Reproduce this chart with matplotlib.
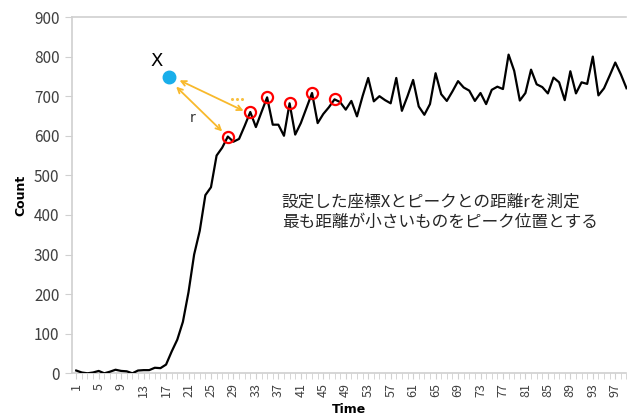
import matplotlib
matplotlib.use("Agg")
import matplotlib.pyplot as plt
import numpy as np

plt.rcParams['font.family'] = ['Noto Sans CJK JP', 'DejaVu Sans']

time = list(range(1, 100))
count = [7, 2, 0, 2, 6, 0, 4, 9, 6, 5,
         0, 7, 8, 8, 14, 13, 22, 55, 85, 130,
         205, 300, 360, 450, 470, 550, 570, 598, 585, 592,
         625, 660, 622, 660, 697, 628, 628, 600, 682, 603,
         632, 670, 708, 632, 655, 672, 692, 685, 666, 688,
         649, 700, 746, 687, 700, 690, 682, 746, 663, 700,
         741, 674, 653, 680, 758, 705, 688, 712, 738, 722,
         714, 688, 708, 680, 716, 724, 718, 805, 764, 689,
         708, 767, 730, 723, 707, 747, 735, 690, 763, 707,
         735, 731, 800, 702, 720, 752, 785, 755, 720]
peak_times = [28, 32, 35, 39, 43, 47]
point_x = (17.6, 749)
arrow_starts = [(19.4, 740), (18.8, 724)]
arrow_ends = [(30.8, 663), (27.0, 611)]
xtick_labels = list(range(1, 98, 4))
yticks = list(range(0, 901, 100))
text_lines = "設定した座標Xとピークとの距離rを測定\n最も距離が小さいものをピーク位置とする"

fig = plt.figure(figsize=(6.27, 4.18), dpi=100)
ax = fig.add_axes([72/627, 1-373.3/418, (626.5-72)/627, (373.3-17)/418])

ax.plot(time, count, color='black', lw=1.6, zorder=3, clip_on=True)
py = [count[time.index(t)] for t in peak_times]
ax.plot(peak_times, py, ls='none', marker='o', ms=8, mfc='none', mec='#FF0000', mew=1.6, zorder=4)

ax.plot([point_x[0]], [point_x[1]], marker='o', ms=9, color='#19AEEA', zorder=5)
ax.text(point_x[0]-2.2, point_x[1]+18, 'X', fontsize=13, color='black', ha='center', va='bottom',
        family=['DejaVu Sans'])
for s, e in zip(arrow_starts, arrow_ends):
    ax.annotate('', xy=e, xytext=s,
                arrowprops=dict(arrowstyle='<->', color='#F8B92C', lw=1.3,
                                shrinkA=0, shrinkB=0, mutation_scale=9))
ax.text(21.8, 646, 'r', fontsize=10, color='#333333', ha='center', va='center', family=['DejaVu Sans'])
for dx in (-0.85, 0, 0.85):
    ax.plot([29.6 + dx], [694], marker='o', ms=2.2, color='#F8C040', mec='none', zorder=4)

ax.text(37.6, 407, text_lines, fontsize=12, color='#262626', ha='left', va='center', linespacing=1.22)

ax.set_xlim(0.25, 98.5)
ax.set_ylim(0, 900)
ax.set_xticks(xtick_labels)
ax.set_xticklabels([str(v) for v in xtick_labels], rotation=90, fontsize=9, color='#404040')
ax.set_xticks(time, minor=True)
ax.tick_params(axis='x', which='both', length=4, color='#D0D0D0', pad=3)
ax.set_yticks(yticks)
ax.set_yticklabels([str(v) for v in yticks], fontsize=11, color='#404040')
ax.tick_params(axis='y', length=5, color='#D0D0D0', pad=4)

for sp in ['left', 'bottom', 'top']:
    ax.spines[sp].set_color('#D0D0D0')
    ax.spines[sp].set_linewidth(1.2)
ax.spines['right'].set_visible(False)

ax.set_ylabel('Count', fontsize=9, fontweight='bold', labelpad=5, family=['DejaVu Sans'])
ax.set_xlabel('Time', fontsize=9, fontweight='bold', labelpad=4, family=['DejaVu Sans'])

fig.savefig('out.png', dpi=100)
